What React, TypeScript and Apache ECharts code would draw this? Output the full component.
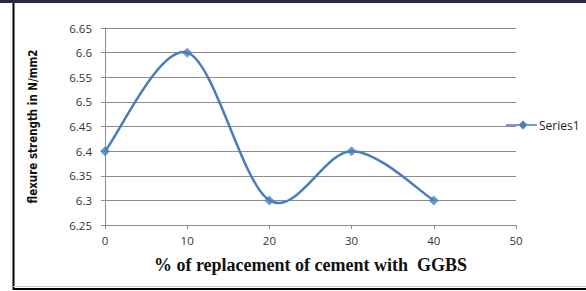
import React, { useEffect, useRef } from "react";
import * as echarts from "echarts";

const replacement = [0, 10, 20, 30, 40];
const strength = [6.4, 6.6, 6.3, 6.4, 6.3];
const seriesName = "Series1";
const xTitle = "% of replacement of cement with  GGBS";
const yTitle = "flexure strength in N/mm2";

export default function App() {
  const ref = useRef<HTMLDivElement>(null);
  useEffect(() => {
    if (!ref.current) return;
    const chart = echarts.init(ref.current, undefined, { renderer: "svg" });
    const color = "#4a7ebb";
    const points = replacement.map((x, i) => [x, strength[i]]);
    chart.setOption({
      animation: false,
      backgroundColor: "#ffffff",
      grid: { left: 105, top: 28, width: 411, height: 197, containLabel: false },
      legend: {
        show: true,
        left: 501,
        top: 114,
        itemWidth: 31,
        itemHeight: 9,
        itemGap: 2,
        textStyle: { fontFamily: "Open Sans, Liberation Sans, sans-serif", fontSize: 12, color: "#222", padding: [0, 0, 0, -3] },
        data: [
          {
            name: seriesName,
            icon: "path://M0,3.8 L31,3.8 L31,5.2 L0,5.2 Z M17,0 L21.5,4.5 L17,9 L12.5,4.5 Z",
          },
        ],
      },
      xAxis: {
        type: "value",
        min: 0,
        max: 50,
        interval: 10,
        axisLine: { show: true, lineStyle: { color: "#8c8c8c", width: 1 } },
        axisTick: { show: true, length: 4, lineStyle: { color: "#8c8c8c" } },
        splitLine: { show: false },
        axisLabel: { fontFamily: "Open Sans, Liberation Sans, sans-serif", fontSize: 11.5, color: "#333", margin: 9 },
        name: xTitle,
        nameLocation: "middle",
        nameGap: 31,
        nameTextStyle: { fontFamily: "Liberation Serif, Times New Roman, serif", fontWeight: "bold", fontSize: 18, color: "#111" },
      },
      yAxis: {
        type: "value",
        min: 6.25,
        max: 6.65,
        interval: 0.05,
        axisLine: { show: true, lineStyle: { color: "#8c8c8c", width: 1 } },
        axisTick: { show: true, length: 4, lineStyle: { color: "#8c8c8c" } },
        splitLine: { show: true, lineStyle: { color: "#8c8c8c", width: 1 } },
        axisLabel: {
          fontFamily: "Open Sans, Liberation Sans, sans-serif",
          fontSize: 11.5,
          color: "#333",
          margin: 13,
          formatter: (v: number) => String(parseFloat(v.toFixed(2))),
        },
        name: yTitle,
        nameLocation: "middle",
        nameGap: 66,
        nameRotate: 90,
        nameTextStyle: {
          fontFamily: "Liberation Sans Narrow, DejaVu Sans Condensed, Liberation Sans, sans-serif",
          fontWeight: "bold",
          fontSize: 11.5,
          color: "#111",
        },
      },
      series: [
        {
          name: seriesName,
          type: "custom",
          coordinateSystem: "cartesian2d",
          data: points,
          renderItem: (params: any, api: any) => {
            if (params.dataIndex !== 0) return null;
            const c = points.map((p) => api.coord(p));
            const n = c.length;
            let d = `M${c[0][0]},${c[0][1]}`;
            for (let i = 0; i < n - 1; i++) {
              const p0 = c[Math.max(0, i - 1)];
              const p1 = c[i];
              const p2 = c[i + 1];
              const p3 = c[Math.min(n - 1, i + 2)];
              const t = 1 / 6;
              const c1x = p1[0] + (p2[0] - p0[0]) * t;
              const c1y = p1[1] + (p2[1] - p0[1]) * t;
              const c2x = p2[0] - (p3[0] - p1[0]) * t;
              const c2y = p2[1] - (p3[1] - p1[1]) * t;
              d += ` C${c1x},${c1y} ${c2x},${c2y} ${p2[0]},${p2[1]}`;
            }
            return {
              type: "path",
              shape: { pathData: d },
              style: { stroke: color, lineWidth: 2.5, fill: "none" },
            };
          },
          itemStyle: { color },
          z: 2,
        },
        {
          name: seriesName,
          type: "scatter",
          data: points,
          symbol: "diamond",
          symbolSize: 10,
          itemStyle: { color },
          z: 3,
        },
      ],
      graphic: [
        { type: "rect", shape: { x: 0, y: 0, width: 586, height: 3 }, style: { fill: "#2b2a40" } },
        { type: "line", shape: { x1: 13.5, y1: 3, x2: 13.5, y2: 290 }, style: { stroke: "#000", lineWidth: 2 } },
        { type: "line", shape: { x1: 13, y1: 286.5, x2: 586, y2: 286.5 }, style: { stroke: "#c8c8c8", lineWidth: 1 } },
        { type: "line", shape: { x1: 13, y1: 289, x2: 586, y2: 289 }, style: { stroke: "#000", lineWidth: 2 } },
      ],
    });
    return () => chart.dispose();
  }, []);
  return (
    <div
      ref={ref}
      style={{ position: "absolute", left: 0, top: 0, width: 586, height: 291 }}
    />
  );
}
